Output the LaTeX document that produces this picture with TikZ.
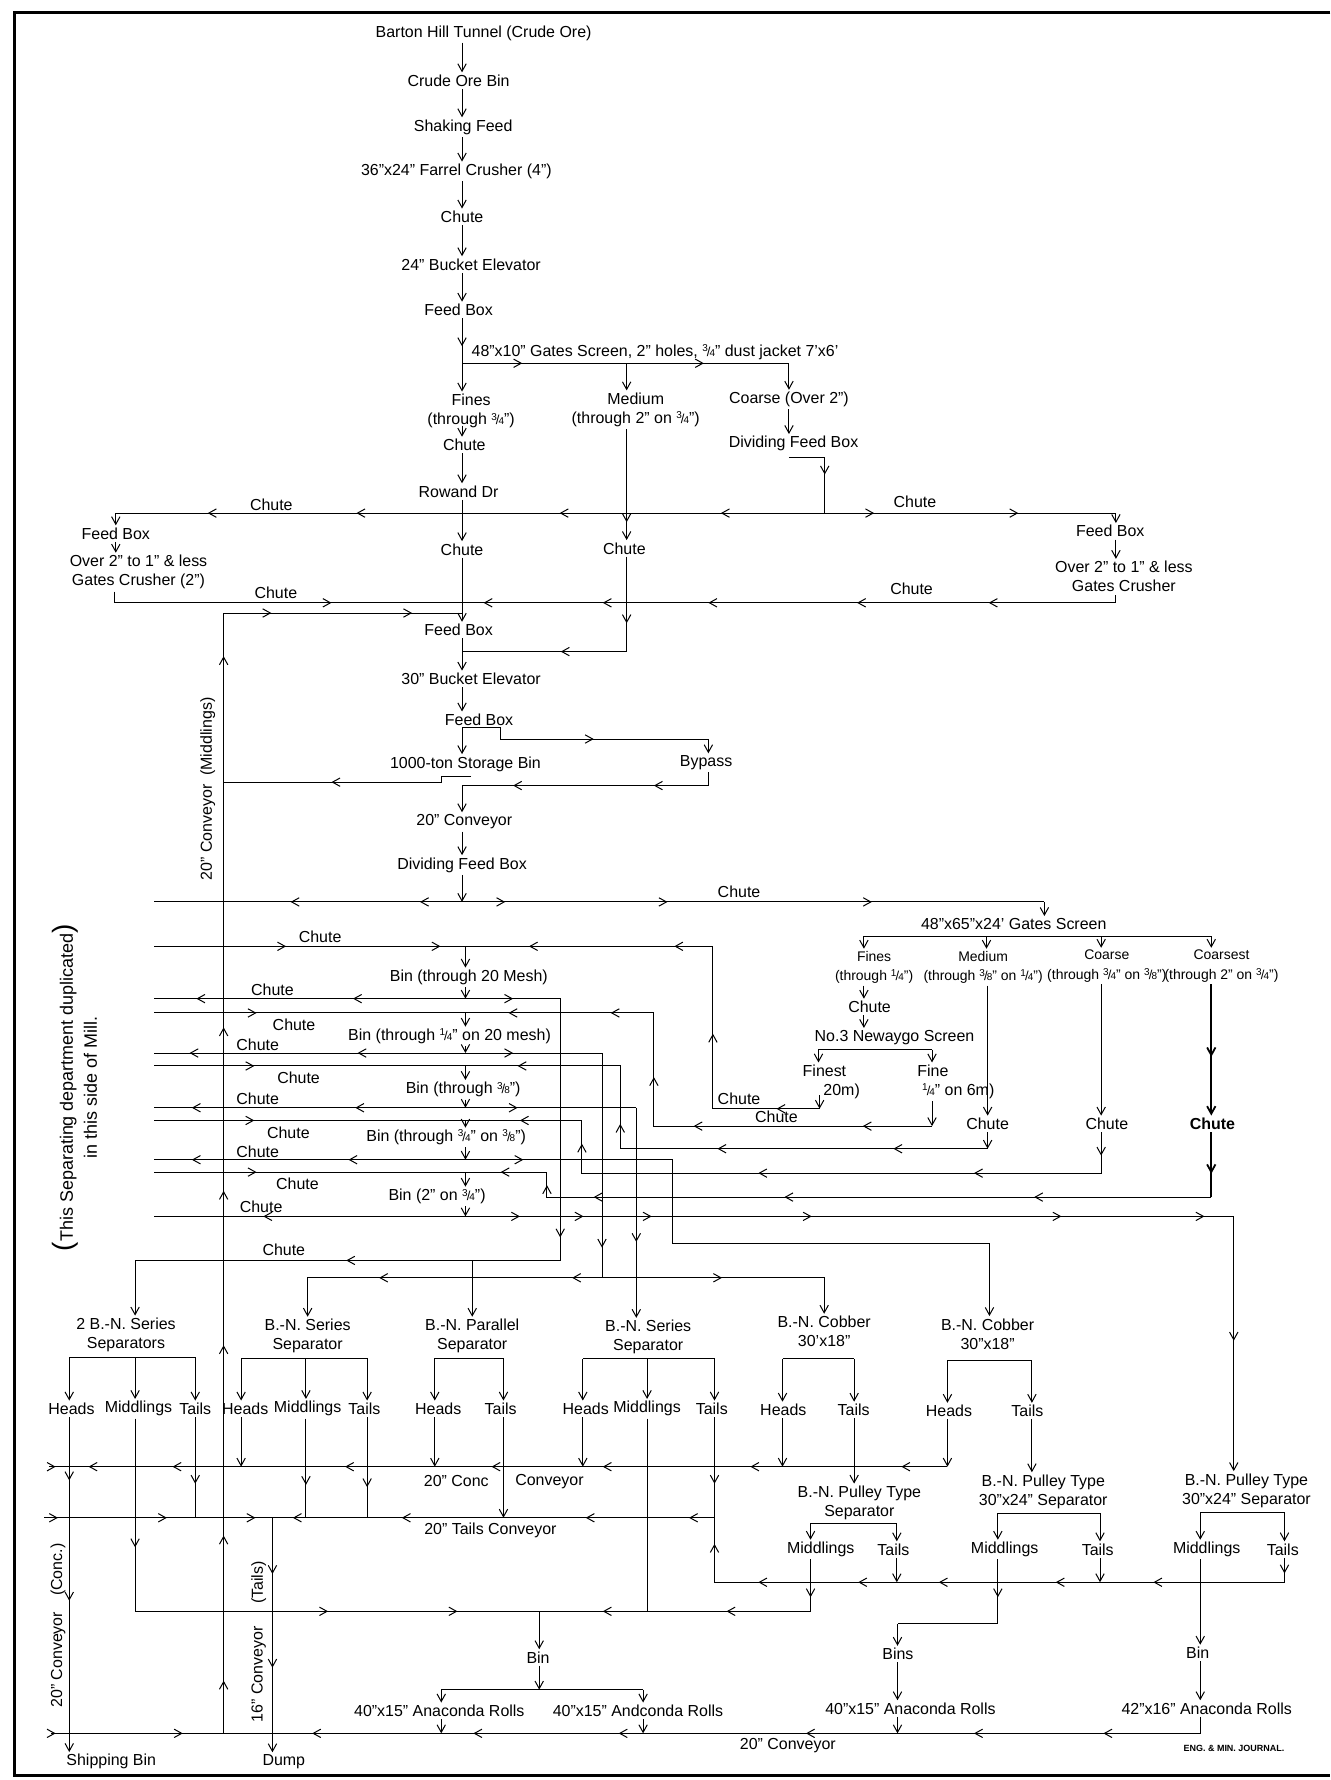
\documentclass[tikz,border=0pt]{standalone}
\usepackage{fontspec}
\setmainfont{Liberation Sans}
\usetikzlibrary{arrows.meta,positioning}

\newcommand{\fr}[2]{\raisebox{.55ex}{\fontsize{5}{5}\selectfont#1}\kern-.06em{\fontsize{6.5}{6.5}\selectfont/}\kern-.06em{\fontsize{5}{5}\selectfont#2}}

\begin{document}
\begin{tikzpicture}[
    x=0.2mm, y=-0.2mm,
    font=\fontsize{8}{9.6}\selectfont,
    >={Straight Barb[length=3.8pt,width=4.2pt]},
    lbl/.style={inner sep=1pt, align=center},
    small/.style={lbl, font=\fontsize{7}{9.6}\selectfont},
    side/.style={lbl, rotate=90},
    wire/.style={line width=.5pt},
    flow/.style={wire, ->},
    rim/.style={line width=1.5pt}
]
\useasboundingbox (0,0) rectangle (1172,1568);

% Frame
\draw[rim] (1172,11) -- (13,11) -- (13,1564) -- (1172,1564);

% Crushing plant
\node[lbl] (tunnel) at (426,29) {Barton Hill Tunnel (Crude Ore)};
\node[lbl] (orebin) at (404,71) {Crude Ore Bin};
\node[lbl] (shaking) at (408,112) {Shaking Feed};
\node[lbl] (farrel) at (402,151) {36"x24" Farrel Crusher (4")};
\node[lbl] (chuteA) at (407,191) {Chute};
\node[lbl] (elevA) at (415,233) {24" Bucket Elevator};
\node[lbl] (feedA) at (404,273) {Feed Box};
\node[lbl] (screenA) at (577,310) {48"x10" Gates Screen, 2" holes, \fr34" dust jacket 7'x6'};
\node[lbl] (finesA) at (415,362) {Fines\\(through \fr34")};
\node[lbl] (mediumA) at (560,361) {Medium\\(through 2" on \fr34")};
\node[lbl] (coarseA) at (695,352) {Coarse (Over 2")};
\node[lbl] (divA) at (699,391) {Dividing Feed Box};
\node[lbl] (chuteB) at (409,392) {Chute};
\node[lbl] (rowand) at (404,433) {Rowand Dr};
\node[lbl] (chuteC) at (407,484) {Chute};
\node[lbl] (chuteD) at (550,483) {Chute};
\node[lbl] (feedL) at (102,470) {Feed Box};
\node[lbl] (gatesL) at (122,504) {Over 2" to 1" \& less\\Gates Crusher (2")};
\node[lbl] (feedR) at (978,468) {Feed Box};
\node[lbl] (gatesR) at (990,508) {Over 2" to 1" \& less\\Gates Crusher};
\node[lbl] (feedB) at (404,555) {Feed Box};
\node[lbl] (elevB) at (415,598) {30" Bucket Elevator};
\node[lbl] (feedC) at (422,634) {Feed Box};
\node[lbl] (storage) at (410,673) {1000-ton Storage Bin};
\node[lbl] (bypass) at (622,672) {Bypass};
\node[lbl] (convA) at (409,724) {20" Conveyor};
\node[lbl] (divB) at (407,762) {Dividing Feed Box};
\node[side] (midconv) at (183,695) {20" Conveyor\ \ (Middlings)};
\node[side, font=\fontsize{9}{12}\selectfont] (note) at (66,958)
  {{\fontsize{14}{12}\selectfont(}This Separating department duplicated{\fontsize{14}{12}\selectfont)}\\in this side of Mill.};

% Chute labels
\foreach \x/\y [count=\i] in {239/445, 806/442, 243/522, 803/519, 651/786, 282/825, 240/872,
    259/903, 227/920, 263/949, 227/968, 254/998, 227/1015, 262/1043, 230/1063, 250/1101,
    651/968, 684/984}
  \node[lbl] (cu\i) at (\x,\y) {Chute};

% Separating department
\node[lbl] (binA) at (413,861) {Bin (through 20 Mesh)};
\node[lbl] (binB) at (396,913) {Bin (through \fr14" on 20 mesh)};
\node[lbl] (binC) at (408,960) {Bin (through \fr38")};
\node[lbl] (binD) at (393,1002) {Bin (through \fr34" on \fr38")};
\node[lbl] (binE) at (385,1054) {Bin (2" on \fr34")};
\node[lbl] (gatesB) at (893,814) {48"x65"x24' Gates Screen};
\node[small] (finesB) at (770,852) {Fines\\(through \fr14")};
\node[small] (mediumB) at (866,852) {Medium\\(through \fr38" on \fr14")};
\node[small] (coarseB) at (975,851) {Coarse\\(through \fr34" on \fr38")};
\node[small] (coarsestB) at (1076,851) {Coarsest\\(through 2" on \fr34")};
\node[lbl] (chuteF) at (766,887) {Chute};
\node[lbl] (newaygo) at (788,914) {No.3 Newaygo Screen};
\node[lbl, align=left, anchor=west] (finest) at (705,953) {Finest\\\hspace*{1.3em}20m)};
\node[lbl, align=left, anchor=west] (fine) at (806,953) {Fine\\\hspace*{.3em}\fr14" on 6m)};
\node[lbl] (chuteG) at (870,990) {Chute};
\node[lbl] (chuteH) at (975,990) {Chute};
\node[lbl, font=\fontsize{8}{9.6}\selectfont\bfseries] (chuteI) at (1068,990) {Chute};

% Separators
\node[lbl] (serA) at (111,1176) {2 B.-N. Series\\Separators};
\node[lbl] (serB) at (271,1177) {B.-N. Series\\Separator};
\node[lbl] (par) at (416,1177) {B.-N. Parallel\\Separator};
\node[lbl] (serC) at (571,1178) {B.-N. Series\\Separator};
\node[lbl] (cobA) at (726,1173) {B.-N. Cobber\\30'x18"};
\node[lbl] (cobB) at (870,1175) {B.-N. Cobber\\30"x18"};
\node[lbl] (hA) at (63,1241) {Heads};
\node[lbl] (mA) at (122,1241) {Middlings};
\node[lbl] (tA) at (172,1241) {Tails};
\node[lbl] (hB) at (216,1241) {Heads};
\node[lbl] (mB) at (271,1241) {Middlings};
\node[lbl] (tB) at (321,1241) {Tails};
\node[lbl] (hC) at (386,1241) {Heads};
\node[lbl] (tC) at (441,1241) {Tails};
\node[lbl] (hD) at (516,1241) {Heads};
\node[lbl] (mD) at (570,1241) {Middlings};
\node[lbl] (tD) at (627,1241) {Tails};
\node[lbl] (hE) at (690,1242) {Heads};
\node[lbl] (tE) at (752,1242) {Tails};
\node[lbl] (hF) at (836,1243) {Heads};
\node[lbl] (tF) at (905,1243) {Tails};
\node[lbl] (pulA) at (757,1324) {B.-N. Pulley Type\\Separator};
\node[lbl] (pulB) at (919,1314) {B.-N. Pulley Type\\30"x24" Separator};
\node[lbl] (pulC) at (1098,1313) {B.-N. Pulley Type\\30"x24" Separator};
\node[lbl] (mPA) at (723,1365) {Middlings};
\node[lbl] (tPA) at (787,1365) {Tails};
\node[lbl] (mPB) at (885,1365) {Middlings};
\node[lbl] (tPB) at (967,1365) {Tails};
\node[lbl] (mPC) at (1063,1365) {Middlings};
\node[lbl] (tPC) at (1130,1365) {Tails};

% Conveyors and rolls
\node[lbl] (concA) at (402,1305) {20" Conc};
\node[lbl] (concB) at (484,1305) {Conveyor};
\node[lbl] (tailsconv) at (432,1348) {20" Tails Conveyor};
\node[lbl] (binF) at (474,1460) {Bin};
\node[lbl] (rollA) at (387,1507) {40"x15" Anaconda Rolls};
\node[lbl] (rollB) at (562,1507) {40"x15" Andconda Rolls};
\node[lbl] (bins) at (791,1457) {Bins};
\node[lbl] (rollC) at (802,1505) {40"x15" Anaconda Rolls};
\node[lbl] (binG) at (1055,1456) {Bin};
\node[lbl] (rollD) at (1063,1505) {42"x16" Anaconda Rolls};
\node[lbl] (conv20) at (694,1538) {20" Conveyor};
\node[lbl] (ship) at (98,1552) {Shipping Bin};
\node[lbl] (dump) at (250,1552) {Dump};
\node[side] (concconv) at (51,1432) {20" Conveyor\quad(Conc.)};
\node[side] (tailsA) at (228,1394) {(Tails)};
\node[side] (conv16) at (228,1475) {16" Conveyor};
\node[lbl, font=\fontsize{4.5}{5}\selectfont\bfseries] (journal) at (1087,1540) {ENG. \& MIN. JOURNAL.};

% Arrows: crushing plant
\draw[flow] (407,0 |- tunnel.south) -- (407,0 |- orebin.north);
\draw[flow] (407,0 |- orebin.south) -- (407,0 |- shaking.north);
\draw[flow] (407,0 |- shaking.south) -- (407,0 |- farrel.north);
\draw[flow] (407,0 |- farrel.south) -- (407,0 |- chuteA.north);
\draw[flow] (407,0 |- chuteA.south) -- (407,0 |- elevA.north);
\draw[flow] (407,0 |- elevA.south) -- (407,0 |- feedA.north);
\draw[wire] (407,0 |- feedA.south) -- (407,320) -- (695,320);
\draw[flow] (407,320) -- (407,0 |- finesA.north);
\draw[flow] (552,320) -- (552,0 |- mediumA.north);
\draw[flow] (695,320) -- (695,0 |- coarseA.north);
\draw[flow] (407,375) -- (407,0 |- chuteB.north);
\draw[flow] (407,0 |- chuteB.south) -- (407,0 |- rowand.north);
\draw[flow] (407,0 |- rowand.south) -- (407,0 |- chuteC.north);
\draw[flow] (695,0 |- coarseA.south) -- (695,0 |- divA.north);
\draw[wire] (695,403) -- (726.5,403) -- (726.5,452);
\draw[flow] (726.5,452) -| (feedL.north);
\draw[flow] (726.5,452) -| (983,0 |- feedR.north);
\draw[flow] (552,0 |- mediumA.south) -- (552,0 |- chuteD.north);
\draw[wire] (552,0 |- chuteD.south) -- (552,574) -- (407,574);
\draw[flow] (feedL.south) -- (feedL.south |- gatesL.north);
\draw[flow] (feedR.south -| 983,0) -- (983,0 |- gatesR.north);
\draw[wire] (101,0 |- gatesL.south) -- (101,531) -- (983,531) -- (983,0 |- gatesR.south);
\draw[flow] (407,0 |- chuteC.south) -- (407,0 |- feedB.north);
\draw[wire] (197,1526.9) -- (197,540) -- (407,540);
\draw[flow] (407,0 |- feedB.south) -- (407,0 |- elevB.north);
\draw[flow] (407,0 |- elevB.south) -- (407,0 |- feedC.north);
\draw[flow] (407,0 |- feedC.south) -- (407,0 |- storage.north);
\draw[flow] (407,0 |- feedC.south) -- (441,0 |- feedC.south) -- (441,651) -- (624,651) -- (624,0 |- bypass.north);
\draw[wire] (415,684) -- (389,684) -- (389,689) -- (197,689);
\draw[flow] (624,0 |- bypass.south) -- (624,692) -- (407,692) -- (407,0 |- convA.north);
\draw[flow] (407,0 |- convA.south) -- (407,0 |- divB.north);
\draw[flow] (407,0 |- divB.south) -- (407,794.5);

% Arrows: screens and bins
\draw[wire] (136,794.5) -- (920,794.5);
\draw[flow] (920,794.5) -- (920,0 |- gatesB.north);
\draw[wire] (761,824.8) -- (1067,824.8);
\foreach \x/\n in {761/finesB, 869/mediumB, 970/coarseB, 1067/coarsestB}
  \draw[flow] (\x,824.8) -- (\x,0 |- \n.north);
\draw[flow] (761,0 |- finesB.south) -- (761,0 |- chuteF.north);
\draw[flow] (761,0 |- chuteF.south) -- (761,0 |- newaygo.north);
\draw[wire] (721,924.7) -- (821,924.7);
\draw[flow] (721,924.7) -- (721,0 |- finest.north);
\draw[flow] (821,924.7) -- (821,0 |- fine.north);
\draw[flow] (722,965) -- (722,976.7);
\draw[wire] (136,833.6) -- (628,833.6) -- (628,976.7) -- (722,976.7);
\draw[flow] (410,833.6) -- (410,0 |- binA.north);
\draw[flow] (410,0 |- binA.south) -- (410,879.7);
\draw[wire] (136,879.7) -- (493.5,879.7) -- (493.5,1110.3) -- (119,1110.3);
\draw[flow] (119,1110.3) -- (119,0 |- serA.north);
\draw[flow] (416,1110.3) -- (416,0 |- par.north);
\draw[flow] (821,0 |- fine.south) -- (821,992);
\draw[wire] (821,992) -- (576,992) -- (576,892.3) -- (136,892.3);
\draw[flow] (410,892.3) -- (410,0 |- binB.north);
\draw[flow] (410,0 |- binB.south) -- (410,927.6);
\draw[wire] (136,927.6) -- (530.3,927.6) -- (530.3,1125.6);
\draw[flow] (530.3,1125.6) -| (serB.north);
\draw[flow] (530.3,1125.6) -| (cobA.north);
\draw[flow] (870,0 |- mediumB.south) -- (870,0 |- chuteG.north);
\draw[flow] (870,0 |- chuteG.south) -- (870,1011.9);
\draw[wire] (870,1011.9) -- (546.4,1011.9) -- (546.4,939) -- (136,939);
\draw[flow] (410,939) -- (410,0 |- binC.north);
\draw[flow] (410,0 |- binC.south) -- (410,975.8);
\draw[wire] (136,975.8) -- (560.5,975.8);
\draw[flow] (560.5,975.8) -- (560.5,0 |- serC.north);
\draw[flow] (970,0 |- coarseB.south) -- (970,0 |- chuteH.north);
\draw[wire] (970,0 |- chuteH.south) -- (970,1033.4) -- (512.6,1033.4) -- (512.6,987) -- (136,987);
\draw[flow] (410,987) -- (410,0 |- binD.north);
\draw[flow] (410,0 |- binD.south) -- (410,1021.6);
\draw[flow] (136,1021.6) -- (592,1021.6) -- (592,1095.7) -| (871.6,0 |- cobB.north);
\draw[flow, line width=.9pt] (1067,0 |- coarsestB.south) -- (1067,0 |- chuteI.north);
\draw[wire, line width=.9pt] (1067,0 |- chuteI.south) -- (1067,1054.5);
\draw[wire] (1067,1054.5) -- (481.8,1054.5) -- (481.8,1032.5) -- (136,1032.5);
\draw[flow] (410,1032.5) -- (410,0 |- binE.north);
\draw[flow] (410,0 |- binE.south) -- (410,1071.5);
\draw[flow] (136,1071.5) -- (1086.8,1071.5) -- (1086.8,0 |- pulC.north);

% Arrows: separators
\draw[wire] (61,1195.5) -- (172,1195.5);
\draw[wire] (212.4,1196.4) -- (323.4,1196.4);
\draw[wire] (383,1196.4) -- (443.5,1196.4);
\draw[wire] (513.4,1197) -- (629.4,1197);
\draw[wire] (689.3,1197) -- (752.4,1197);
\draw[wire] (834.6,1198.5) -- (909,1198.5);
\foreach \x/\y/\n in {61/1195.5/hA, 119/1195.5/mA, 172/1195.5/tA, 212.4/1196.4/hB, 269.5/1196.4/mB,
    323.4/1196.4/tB, 383/1196.4/hC, 443.5/1196.4/tC, 513.4/1197/hD, 570/1197/mD, 629.4/1197/tD,
    689.3/1197/hE, 752.4/1197/tE, 834.6/1198.5/hF, 909/1198.5/tF}
  \draw[flow] (\x,\y) -- (\x,0 |- \n.north);
\draw[flow] (61,0 |- hA.south) -- (61,0 |- ship.north);
\draw[wire] (119,0 |- mA.south) -- (119,1419.4) -- (714,1419.4);
\draw[wire] (172,0 |- tA.south) -- (172,1337);
\draw[flow] (212.4,0 |- hB.south) -- (212.4,1292);
\draw[wire] (269.5,0 |- mB.south) -- (269.5,1337);
\draw[wire] (323.4,0 |- tB.south) -- (323.4,1337);
\draw[flow] (383,0 |- hC.south) -- (383,1292);
\draw[flow] (443.5,0 |- tC.south) -- (443.5,1337);
\draw[flow] (513.4,0 |- hD.south) -- (513.4,1292);
\draw[wire] (570,0 |- mD.south) -- (570,1419.4);
\draw[wire] (629.4,0 |- tD.south) -- (629.4,1337);
\draw[flow] (689.3,0 |- hE.south) -- (689.3,1292);
\draw[flow] (752.4,0 |- tE.south) -- (752.4,0 |- pulA.north);
\draw[flow] (834.6,0 |- hF.south) -- (834.6,1292);
\draw[flow] (909,0 |- tF.south) -- (909,0 |- pulB.north);
\draw[wire] (43,1292) -- (834.6,1292);
\draw[wire] (39,1337) -- (629.4,1337);
\draw[flow] (240,1337) -- (240,0 |- dump.north);

% Arrows: pulley separators
\draw[wire] (714,1341.8) -- (790,1341.8);
\draw[wire] (879,1333) -- (969,1333);
\draw[wire] (1057.3,1332) -- (1131.5,1332);
\foreach \x/\y/\n in {714/1341.8/mPA, 790/1341.8/tPA, 879/1333/mPB, 969/1333/tPB, 1057.3/1332/mPC, 1131.5/1332/tPC}
  \draw[flow] (\x,\y) -- (\x,0 |- \n.north);
\draw[wire] (714,0 |- mPA.south) -- (714,1419.4);
\draw[flow] (790,0 |- tPA.south) -- (790,1393.8);
\draw[wire] (879,0 |- mPB.south) -- (879,1430.5) -- (790.6,1430.5);
\draw[flow] (790.6,1430.5) -- (790.6,0 |- bins.north);
\draw[flow] (969,0 |- tPB.south) -- (969,1393.8);
\draw[flow] (1057.3,0 |- mPC.south) -- (1057.3,0 |- binG.north);
\draw[wire] (1131.5,0 |- tPC.south) -- (1131.5,1393.8) -- (629.4,1393.8) -- (629.4,1337);

% Arrows: rolls
\draw[flow] (475,1419.4) -- (475,0 |- binF.north);
\draw[flow] (475,0 |- binF.south) -- (475,1488.4);
\draw[wire] (388.7,1488.4) -- (566.5,1488.4);
\draw[flow] (388.7,1488.4) -- (388.7,0 |- rollA.north);
\draw[flow] (566.5,1488.4) -- (566.5,0 |- rollB.north);
\draw[flow] (388.7,0 |- rollA.south) -- (388.7,1526.9);
\draw[flow] (566.5,0 |- rollB.south) -- (566.5,1526.9);
\draw[flow] (790.6,0 |- bins.south) -- (790.6,0 |- rollC.north);
\draw[flow] (790.6,0 |- rollC.south) -- (790.6,1526.9);
\draw[flow] (1057.3,0 |- binG.south) -- (1057.3,0 |- rollD.north);
\draw[wire] (1057.3,0 |- rollD.south) -- (1057.3,1526.9) -- (47,1526.9);

% Arrow heads along the lines
\foreach \x/\y in {183/452, 314/452, 493/452, 635/452, 426/531, 531/531, 624/531, 755/531, 871/531,
    494/574, 292/689, 576/692, 452/692, 256/794.5, 370/794.5, 466/833.6, 594/833.6,
    173/879.7, 311/879.7, 448/892.3, 538/892.3, 167/927.6, 315/927.6, 456/939,
    169/975.8, 313/975.8, 458/987, 169/1021.6, 307/1021.6, 441/1032.5, 232/1071.5,
    684/976.7, 760/992, 611/992, 787/1011.9, 632/1011.9, 858/1033.4, 668/1033.4,
    911/1054.5, 691/1054.5, 523/1054.5, 305/1110.3, 504/1125.6, 334/1125.6,
    78/1292, 152/1292, 304/1292, 433/1292, 531/1292, 661/1292, 794/1292,
    258/1337, 354/1337, 516/1337, 607/1337,
    668/1393.8, 756/1393.8, 827/1393.8, 930/1393.8, 1016/1393.8, 531/1419.4, 640/1419.4,
    275/1526.9, 417/1526.9, 545/1526.9, 710/1526.9, 858/1526.9, 972/1526.9}
  \draw[flow] (\x+4,\y) -- (\x,\y);
\foreach \x/\y in {460/320, 620/320, 770/452, 897/452, 292/531, 239/540, 363/540, 523/651,
    445/794.5, 588/794.5, 768/794.5, 252/833.6, 388/833.6, 452/879.7, 226/892.3, 452/927.6,
    224/939, 456/975.8, 224/987, 461/1021.6, 226/1032.5,
    458/1071.5, 514/1071.5, 574/1071.5, 715/1071.5, 935/1071.5, 1061/1071.5,
    636/1125.6, 49/1292, 51/1337, 147/1337, 225/1337, 289/1419.4, 403/1419.4, 49/1526.9, 161/1526.9}
  \draw[flow] (\x-4,\y) -- (\x,\y);
\foreach \x/\y in {407/305, 552/460, 552/549, 726.5/418, 970/1018, 493.5/1090, 530.3/1099,
    560.5/1094, 1086.8/1181, 61/1304, 61/1410, 119/1363, 172/1307, 269.5/1308, 323.4/1310,
    240/1386.5, 240/1469, 714/1407, 879/1407, 629.4/1307, 1131.5/1386}
  \draw[flow] (\x,\y-4) -- (\x,\y);
\foreach \x/\y in {1067/931, 1067/1034}
  \draw[flow, line width=.9pt] (\x,\y-4) -- (\x,\y);
\foreach \x/\y in {197/1480.5, 197/1352.7, 197/1185, 197/1049, 197/905, 197/578, 628/910.6,
    576/948.8, 546.4/990, 512.6/1007.5, 481.8/1044, 629.4/1360}
  \draw[flow] (\x,\y+4) -- (\x,\y);

\end{tikzpicture}
\end{document}
